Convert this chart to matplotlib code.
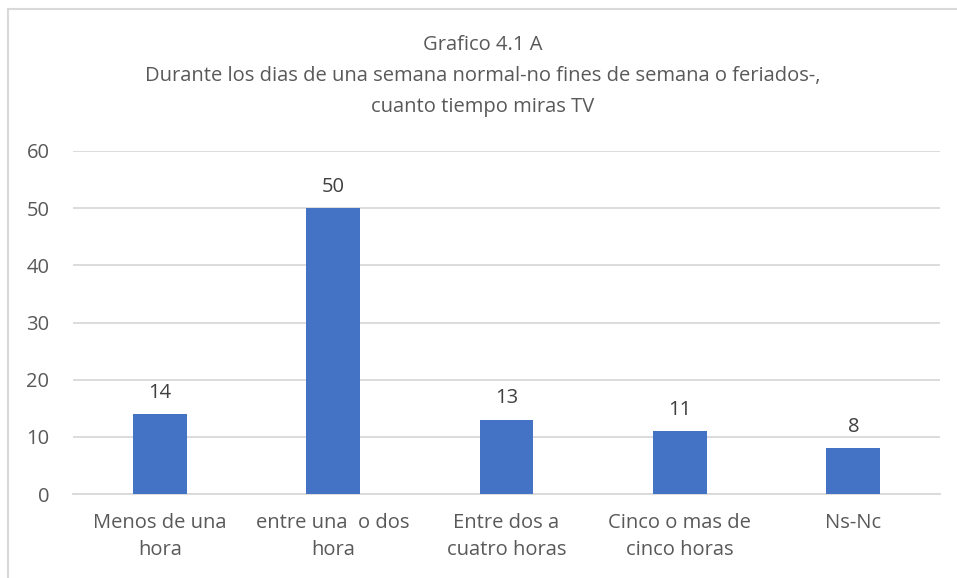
import matplotlib
matplotlib.use('Agg')
import matplotlib.pyplot as plt
from matplotlib.patches import Rectangle

# Horas de TV en dias de semana
categorias = ["Menos de una\nhora", "entre una  o dos\nhora", "Entre dos a\ncuatro horas",
              "Cinco o mas de\ncinco horas", "Ns-Nc"]
valores = [14, 50, 13, 11, 8]
yticks = [0, 10, 20, 30, 40, 50, 60]

titulo = ["Grafico 4.1 A",
          "Durante los dias de una semana normal-no fines de semana o feriados-,",
          "cuanto tiempo miras TV"]

gris_texto = '#595959'
gris_linea = '#D9D9D9'
azul = '#4472C4'

plt.rcParams['font.family'] = ['Open Sans', 'DejaVu Sans']

fig = plt.figure(figsize=(9.57, 5.78), dpi=100)
fig.patches.append(Rectangle((8 / 957, -0.1), 1.2, 1 - 9 / 578 + 0.1,
                             transform=fig.transFigure, fill=False,
                             edgecolor=gris_linea, linewidth=1.5))

ax = fig.add_axes([73 / 957, 1 - 494 / 578, 867 / 957, 343 / 578])
x = range(len(valores))
bars = ax.bar(x, valores, width=0.31, color=azul, zorder=3)
for b, v in zip(bars, valores):
    ax.text(b.get_x() + b.get_width() / 2, v + 2.0, str(v), ha='center', va='bottom',
            fontsize=14.5, color='#404040')

ax.set_xlim(-0.5, len(valores) - 0.5)
ax.set_ylim(0, 60)
ax.set_yticks(yticks)
ax.set_xticks(list(x))
ax.set_xticklabels(categorias, fontsize=14.5, color=gris_texto, linespacing=1.45)
ax.tick_params(axis='y', labelsize=14.5, labelcolor=gris_texto, length=0, pad=17)
ax.tick_params(axis='x', length=0, pad=14)
ax.yaxis.grid(True, color=gris_linea, linewidth=1.3, zorder=0)
for s in ['top', 'right', 'left']:
    ax.spines[s].set_visible(False)
ax.spines['bottom'].set_color(gris_linea)
ax.spines['bottom'].set_linewidth(1.3)

for linea, ypx in zip(titulo, [45, 76, 107]):
    fig.text(483 / 957, 1 - ypx / 578, linea, ha='center', va='center',
             fontsize=14.5, color=gris_texto)

fig.savefig('out.png', dpi=100)
